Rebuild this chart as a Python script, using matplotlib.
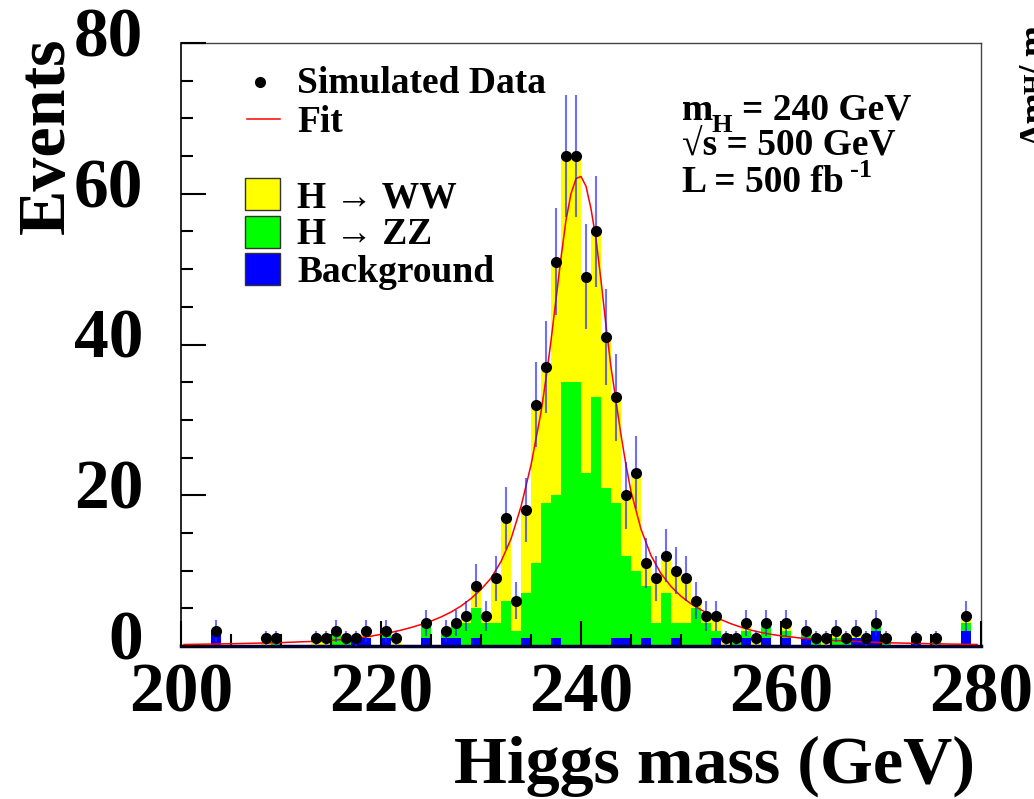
import matplotlib

matplotlib.use("Agg")
import matplotlib.pyplot as plt
import numpy as np
from matplotlib.lines import Line2D
from matplotlib.patches import Rectangle
from matplotlib.ticker import MultipleLocator
from matplotlib.transforms import ScaledTranslation

plt.rcParams["font.family"] = ["Liberation Serif", "DejaVu Serif"]
plt.rcParams["font.weight"] = "bold"

# Bin lower edges (1 GeV bins, 200-280 GeV)
bin_edges = np.arange(200, 280)

# Stacked histogram contents, one row = 10 bins
background = [
    0, 0, 0, 2, 0, 0, 0, 0, 0, 0,
    0, 0, 0, 0, 0, 0, 0, 1, 1, 0,
    1, 0, 0, 0, 1, 0, 1, 1, 0, 1,
    0, 0, 0, 0, 1, 0, 0, 1, 0, 0,
    0, 0, 0, 1, 1, 0, 1, 0, 0, 1,
    0, 0, 0, 1, 0, 0, 1, 0, 1, 0,
    1, 0, 1, 0, 0, 0, 0, 1, 1, 2,
    0, 0, 0, 1, 0, 0, 0, 0, 2, 0,
]
h_zz = [
    0, 0, 0, 0, 0, 0, 0, 0, 0, 1,
    0, 0, 0, 0, 0, 2, 1, 0, 0, 0,
    1, 0, 0, 0, 2, 0, 1, 2, 3, 4,
    3, 3, 6, 2, 6, 11, 19, 19, 35, 35,
    23, 33, 21, 18, 11, 10, 7, 3, 7, 2,
    3, 5, 3, 1, 0, 1, 1, 0, 2, 0,
    1, 0, 1, 1, 0, 1, 1, 0, 0, 1,
    1, 0, 0, 0, 0, 1, 0, 0, 1, 0,
]
h_ww = [
    0, 0, 0, 0, 0, 0, 0, 0, 1, 0,
    0, 0, 0, 1, 1, 0, 0, 0, 1, 0,
    0, 1, 0, 0, 0, 0, 0, 0, 1, 3,
    1, 6, 11, 4, 11, 21, 18, 31, 30, 30,
    26, 22, 20, 14, 8, 13, 3, 6, 5, 7,
    6, 1, 1, 2, 1, 0, 1, 1, 0, 0,
    1, 0, 0, 0, 1, 1, 0, 1, 0, 0,
    0, 0, 0, 0, 0, 0, 0, 0, 1, 0,
]

# Simulated data points (events per bin)
sim_data = [
    0, 0, 0, 2, 0, 0, 0, 0, 1, 1,
    0, 0, 0, 1, 1, 2, 1, 1, 2, 0,
    2, 1, 0, 0, 3, 0, 2, 3, 4, 8,
    4, 9, 17, 6, 18, 32, 37, 51, 65, 65,
    49, 55, 41, 33, 20, 23, 11, 9, 12, 10,
    9, 6, 4, 4, 1, 1, 3, 1, 3, 0,
    3, 0, 2, 1, 1, 2, 1, 2, 1, 3,
    1, 0, 0, 1, 0, 1, 0, 0, 4, 0,
]

# Fit curve
fit_x = [200.3, 205, 210, 214, 217, 219, 221, 222, 223, 224, 225, 226, 227, 228,
         229, 230, 231, 232, 233, 234, 235, 236, 236.5, 237, 237.5, 238, 238.5,
         239, 239.5, 240, 240.5, 241, 241.5, 242, 242.5, 243, 243.5, 244, 244.5,
         245, 246, 247, 248, 249, 250, 251, 252, 253, 254, 255, 256, 257, 258,
         259, 260, 262, 265, 270, 275, 279.6]
fit_y = [0.2, 0.3, 0.45, 0.65, 0.95, 1.3, 1.8, 2.1, 2.45, 2.85, 3.3, 3.85, 4.5, 5.3,
         6.3, 7.5, 9.0, 11.2, 14.2, 18.5, 24, 31, 35.5, 40.5, 46, 51.5, 56.5,
         60, 62, 62.3, 61, 58, 54, 48.5, 42.5, 37, 32.5, 28, 24,
         20.5, 15.5, 12, 9.6, 7.9, 6.6, 5.6, 4.8, 4.1, 3.5, 2.95, 2.5, 2.1, 1.8,
         1.55, 1.35, 1.05, 0.75, 0.45, 0.3, 0.2]

legend_labels = ["Simulated Data", "Fit", "H \u2192 WW", "H \u2192 ZZ", "Background"]
info_lines = ["= 240 GeV", "\u221as = 500 GeV", "L = 500 fb"]

W, H = 1034, 799


def fx(x):
    return x / W


def fy(y):
    return 1 - y / H


fig = plt.figure(figsize=(W / 100, H / 100), dpi=100)
ax = fig.add_axes([fx(181), fy(646), fx(981) - fx(181), fy(43) - fy(646)])

bg = np.array(background)
zz = np.array(h_zz)
ww = np.array(h_ww)
ax.bar(bin_edges, bg, width=1, align="edge", color="#0000ff", linewidth=0, zorder=1)
ax.bar(bin_edges, zz, width=1, align="edge", bottom=bg, color="#00ff00", linewidth=0, zorder=1)
ax.bar(bin_edges, ww, width=1, align="edge", bottom=bg + zz, color="#ffff00", linewidth=0, zorder=1)

ax.plot(fit_x, fit_y, color="red", lw=1.1, zorder=3)

data = np.array(sim_data, dtype=float)
mask = data > 0
centers = bin_edges[mask] + 0.5
err = np.sqrt(data[mask])
ax.vlines(centers, data[mask] - err, data[mask] + err, color="#2020ff", alpha=0.65, lw=1.5, zorder=3)
ax.plot(centers, data[mask], "o", color="black", ms=7, zorder=4)

ax.set_xlim(200, 280)
ax.set_ylim(0, 80)
ax.set_axisbelow(False)
ax.xaxis.set_major_locator(MultipleLocator(20))
ax.xaxis.set_minor_locator(MultipleLocator(5))
ax.yaxis.set_major_locator(MultipleLocator(20))
ax.yaxis.set_minor_locator(MultipleLocator(5))
ax.tick_params(which="major", direction="in", length=18, width=1.5, labelsize=50,
               top=False, right=False)
ax.tick_params(which="minor", direction="in", length=8.6, width=1.5, top=False, right=False)
ax.tick_params(axis="x", pad=12)
ax.tick_params(axis="y", pad=27)
for lab in ax.get_yticklabels():
    lab.set_transform(lab.get_transform() + ScaledTranslation(0, 0.11, fig.dpi_scale_trans))

for side in ["top", "right"]:
    ax.spines[side].set_color("#444444")
    ax.spines[side].set_linewidth(1)
ax.spines["left"].set_linewidth(1.2)
ax.spines["bottom"].set_linewidth(2.5)
ax.spines["bottom"].set_color("#000030")

# Axis titles
fig.text(fx(17), fy(37), "Events", rotation=90, ha="left", va="top", fontsize=49)
fig.text(fx(975), fy(783), "Higgs mass (GeV)", ha="right", va="baseline", fontsize=49)

# Legend, drawn by hand
fig.add_artist(Line2D([fx(260)], [fy(82)], marker="o", color="black", ms=7))
fig.add_artist(Line2D([fx(247), fx(280)], [fy(119), fy(119)], color="red", lw=1.1))
for top, color in zip([178, 216, 253], ["#ffff00", "#00ff00", "#0000ff"]):
    fig.add_artist(Rectangle((fx(245), fy(top + 32)), fx(35), 32 / H,
                             facecolor=color, edgecolor="#333333", lw=1))
for base, label in zip([93, 132, 207, 244, 282], legend_labels):
    fig.text(fx(297), fy(base), label, ha="left", va="baseline", fontsize=27)

# Run conditions
fig.text(fx(682), fy(120), "m", ha="left", va="baseline", fontsize=27)
fig.text(fx(712), fy(132), "H", ha="left", va="baseline", fontsize=19)
fig.text(fx(742), fy(120), info_lines[0], ha="left", va="baseline", fontsize=27)
fig.text(fx(682), fy(155), info_lines[1], ha="left", va="baseline", fontsize=27)
fig.text(fx(682), fy(192), info_lines[2], ha="left", va="baseline", fontsize=27)
fig.text(fx(850), fy(177), "-1", ha="left", va="baseline", fontsize=19)

# Clipped title of the neighbouring panel
fig.text(fx(1018), fy(146), "\u0394m", rotation=90, ha="left", va="bottom", fontsize=27)
fig.text(fx(1024), fy(94), "H", rotation=90, ha="left", va="bottom", fontsize=19)
fig.text(fx(1018), fy(76), "/ m", rotation=90, ha="left", va="bottom", fontsize=27)

fig.savefig("out.png", dpi=100)
